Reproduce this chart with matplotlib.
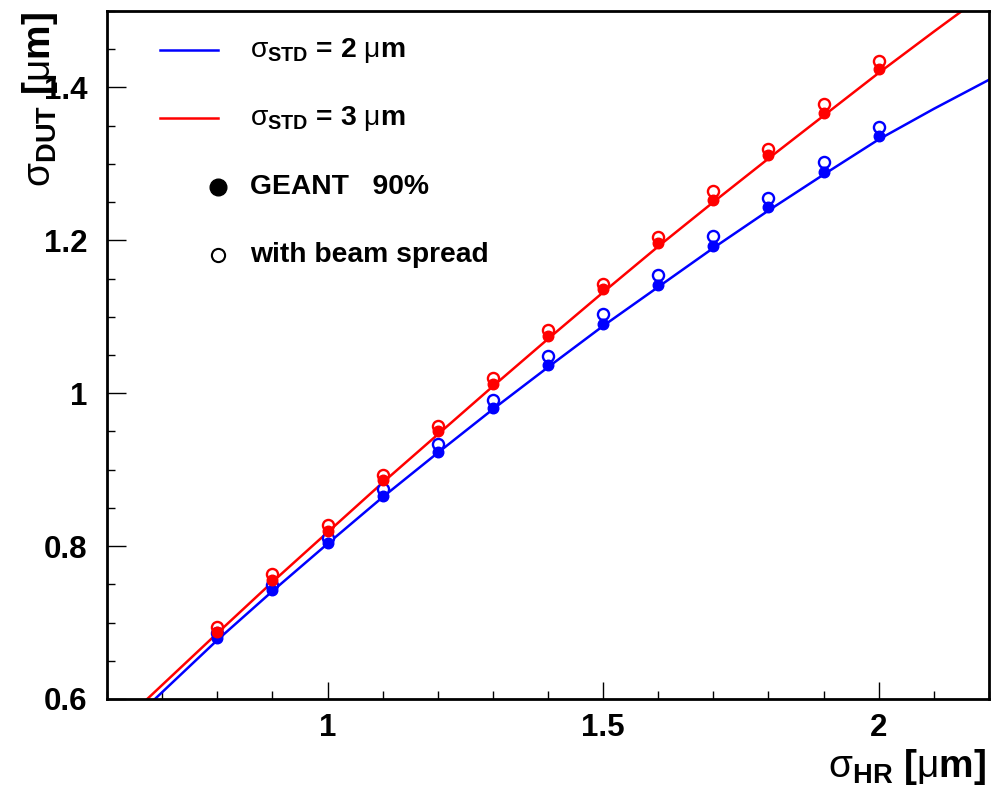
import matplotlib
matplotlib.use("Agg")
import matplotlib.pyplot as plt
from matplotlib.ticker import MultipleLocator, FormatStrFormatter

plt.rcParams['font.family'] = ['Liberation Sans', 'DejaVu Sans']
plt.rcParams['mathtext.fontset'] = 'custom'
plt.rcParams['mathtext.rm'] = 'Liberation Sans'
plt.rcParams['mathtext.bf'] = 'Liberation Sans:bold'
plt.rcParams['mathtext.it'] = 'Liberation Sans:italic'

# GEANT points (90%) and the same with beam spread
sigma_hr = [0.8, 0.9, 1.0, 1.1, 1.2, 1.3, 1.4, 1.5, 1.6, 1.7, 1.8, 1.9, 2.0]
geant_std2 = [0.680, 0.743, 0.804, 0.866, 0.923, 0.981, 1.037, 1.091, 1.142, 1.193, 1.243, 1.290, 1.336]
spread_std2 = [0.686, 0.749, 0.811, 0.875, 0.934, 0.991, 1.049, 1.103, 1.154, 1.205, 1.255, 1.302, 1.348]
geant_std3 = [0.688, 0.756, 0.820, 0.887, 0.950, 1.012, 1.075, 1.136, 1.196, 1.253, 1.311, 1.367, 1.424]
spread_std3 = [0.694, 0.764, 0.828, 0.893, 0.957, 1.020, 1.083, 1.143, 1.204, 1.264, 1.320, 1.378, 1.434]

# analytic curves
curve_x_std2 = [0.687, 0.8, 0.9, 1.0, 1.1, 1.2, 1.3, 1.4, 1.5, 1.6, 1.7, 1.8, 1.9, 2.0, 2.1, 2.2]
curve_y_std2 = [0.600, 0.677, 0.741, 0.803, 0.864, 0.922, 0.979, 1.034, 1.088, 1.139, 1.190, 1.239, 1.286, 1.332, 1.372, 1.410]
curve_x_std3 = [0.673, 0.8, 0.9, 1.0, 1.1, 1.2, 1.3, 1.4, 1.5, 1.6, 1.7, 1.8, 1.9, 2.0, 2.1, 2.2]
curve_y_std3 = [0.600, 0.686, 0.753, 0.818, 0.883, 0.946, 1.009, 1.071, 1.132, 1.192, 1.250, 1.307, 1.363, 1.419, 1.473, 1.526]

blue = '#0000ff'
red = '#ff0000'

fig = plt.figure(figsize=(10.01, 7.90), dpi=100)
ax = fig.add_axes([0.1069, 0.1152, 0.8811, 0.8709])

ax.plot(curve_x_std2, curve_y_std2, color=blue, lw=1.8, zorder=2)
ax.plot(curve_x_std3, curve_y_std3, color=red, lw=1.8, zorder=2)

ax.plot(sigma_hr, spread_std2, 'o', ms=8.0, mfc='white', mec=blue, mew=1.7, zorder=3)
ax.plot(sigma_hr, geant_std2, 'o', ms=7.6, color=blue, zorder=4)
ax.plot(sigma_hr, spread_std3, 'o', ms=8.0, mfc='none', mec=red, mew=1.7, zorder=5)
ax.plot(sigma_hr, geant_std3, 'o', ms=7.6, color=red, zorder=6)

ax.set_xlim(0.6, 2.2)
ax.set_ylim(0.6, 1.5)

ax.xaxis.set_major_locator(MultipleLocator(0.5))
ax.xaxis.set_minor_locator(MultipleLocator(0.1))
ax.yaxis.set_major_locator(MultipleLocator(0.2))
ax.yaxis.set_minor_locator(MultipleLocator(0.05))
ax.xaxis.set_major_formatter(FormatStrFormatter('%g'))
ax.yaxis.set_major_formatter(FormatStrFormatter('%g'))

ax.tick_params(axis='both', which='both', direction='in', top=False, right=False, width=1.0)
ax.tick_params(axis='x', which='major', length=12.5, pad=10)
ax.tick_params(axis='y', which='major', length=13.5, pad=14)
ax.tick_params(axis='both', which='minor', length=6)
for lab in ax.get_xticklabels() + ax.get_yticklabels():
    lab.set_fontsize(22.5)
    lab.set_fontweight('bold')

for sp in ax.spines.values():
    sp.set_linewidth(2.0)

# axis titles
fig.text(0.040, 0.985, r'$\mathrm{\sigma}_{\mathbf{DUT}}$ [$\mathrm{\mu}$m]', rotation=90,
         ha='center', va='top', fontsize=28, fontweight='bold')
fig.text(0.985, 0.004, r'$\mathrm{\sigma}_{\mathbf{HR}}$ [$\mathrm{\mu}$m]',
         ha='right', va='bottom', fontsize=28, fontweight='bold')

# legend
ax.plot([0.060, 0.126], [0.943, 0.943], color=blue, lw=1.8, transform=ax.transAxes)
ax.plot([0.060, 0.126], [0.844, 0.844], color=red, lw=1.8, transform=ax.transAxes)
ax.plot([0.126], [0.744], 'o', ms=12, color='black', transform=ax.transAxes)
ax.plot([0.126], [0.645], 'o', ms=9.5, mfc='white', mec='black', mew=1.5, transform=ax.transAxes)
leg_kw = dict(transform=ax.transAxes, fontsize=20.3, fontweight='bold', va='center', ha='left')
ax.text(0.162, 0.943, r'$\mathrm{\sigma}_{\mathbf{STD}}$ = 2 $\mathrm{\mu}$m', **leg_kw)
ax.text(0.162, 0.844, r'$\mathrm{\sigma}_{\mathbf{STD}}$ = 3 $\mathrm{\mu}$m', **leg_kw)
ax.text(0.162, 0.744, 'GEANT   90%', **leg_kw)
ax.text(0.162, 0.645, 'with beam spread', **leg_kw)

fig.savefig('out.png', dpi=100)
